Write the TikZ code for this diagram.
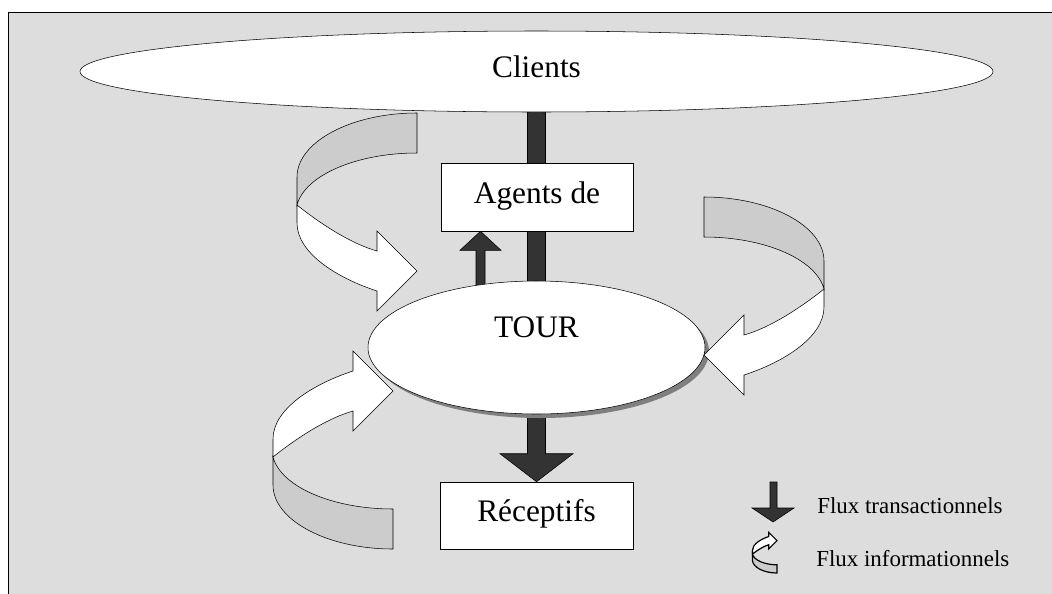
\documentclass[tikz,border=0pt]{standalone}
\usepackage{fontspec}
\setmainfont{Liberation Serif}
\usetikzlibrary{shapes.geometric,calc,shadows}
\definecolor{bg}{HTML}{DDDDDD}
\definecolor{bandgray}{HTML}{CCCCCC}
\definecolor{darkflow}{HTML}{333333}
\definecolor{shadowgray}{HTML}{7F7F7F}
\pgfdeclarelayer{bglayer}
\pgfdeclarelayer{flowlayer}
\pgfsetlayers{bglayer,flowlayer,main}
\tikzset{
  mainfont/.style={font=\fontsize{23.5}{28}\selectfont},
  legendfont/.style={font=\fontsize{17.2}{20}\selectfont},
  textpos/.style={text height=16pt, text depth=7pt},
  boxnode/.style={draw, fill=white, inner sep=0pt, textpos, mainfont},
  ellnode/.style={draw, fill=white, ellipse, inner sep=0pt, mainfont},
  flowarrow/.style={draw=black, fill=darkflow},
  infoarrow/.pic={
    \draw[fill=bandgray] (0,0) .. controls (-66,0) and (-120,29) .. (-120,64)
      -- (-120,92) .. controls (-112,62) and (-60,40) .. (0,40) -- cycle;
    \draw[fill=white] (-120,92) .. controls (-95,112) and (-65,131) .. (-40,138)
      -- (-40,118) -- (0,158) -- (-40,198) -- (-40,178)
      .. controls (-80,165) and (-120,140) .. (-120,110) -- cycle;
  }
}
\begin{document}
\begin{tikzpicture}[x=0.75pt,y=-0.75pt,line width=1.25pt]
\useasboundingbox (0,0) rectangle (1052,593);
\begin{pgfonlayer}{bglayer}
  \clip (0,0) rectangle (1052,593);
  \draw[fill=bg] (8,12) rectangle (1070,610);
\end{pgfonlayer}

% nodes
\node[ellnode, textpos, minimum width=684.75pt, minimum height=60.75pt] (clients) at (536.5,71.5) {Clients};
\node[boxnode, minimum width=144pt, minimum height=51pt] (agents) at (537,197) {Agents de};
\node[ellnode, text height=16pt, text depth=31.75pt, minimum width=252.75pt, minimum height=99.75pt,
      drop shadow={shadow xshift=3pt, shadow yshift=-3pt, fill=shadowgray, opacity=1}] (tour) at (536.5,347.5) {TOUR};
\node[boxnode, minimum width=144.75pt, minimum height=50.25pt] (recep) at (536.5,515.5) {Réceptifs};

% transactional flows
\begin{pgfonlayer}{flowlayer}
  \draw[flowarrow] ($(clients.center)+(-9,0)$) -- ($(recep.north)+(-9,-28)$)
    -- ($(recep.north)+(-36.5,-28)$) -- (recep.north) -- ($(recep.north)+(36.5,-28)$)
    -- ($(recep.north)+(9,-28)$) -- ($(clients.center)+(9,0)$) -- cycle;
  \coordinate (uptip) at ($(agents.south)+(-56.5,0)$);
  \draw[flowarrow] (uptip) -- ++(20.5,19) -- ++(-16,0) -- ++(0,60) -- ++(-9,0)
    -- ++(0,-60) -- ++(-16,0) -- cycle;
\end{pgfonlayer}

% informational flows
\pic at (417,113) {infoarrow};
\pic[xscale=-1] at (704,197) {infoarrow};
\pic[yscale=-1] at (393,549) {infoarrow};

% legend
\draw[flowarrow] (770,482) -- (770,508) -- (752,508) -- (773,522) -- (794,508)
  -- (777,508) -- (777,482) -- cycle;
\node[legendfont, anchor=base west, inner sep=0pt] (legtrans) at (817,513) {Flux transactionnels};
\pic[scale=0.205, yscale=-1, line width=0.9pt] at (777,573) {infoarrow};
\node[legendfont, anchor=base west, inner sep=0pt] (leginfo) at (816,566) {Flux informationnels};
\end{tikzpicture}
\end{document}
